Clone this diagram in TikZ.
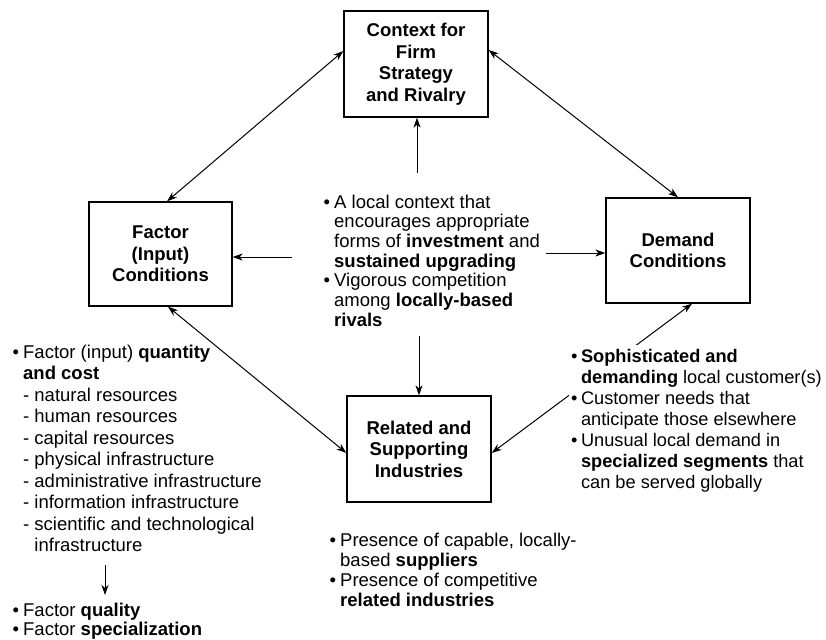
\documentclass[tikz,border=0pt]{standalone}
\usepackage{fontspec}
\setmainfont{Liberation Sans}
\usetikzlibrary{arrows.meta,calc}
\newcommand{\bl}{\textbullet}
\begin{document}
\begin{tikzpicture}[x=1pt,y=-1pt,
  box/.style={draw, line width=1.3pt, minimum width=144pt, minimum height=106pt,
    align=center, inner sep=0pt, font=\bfseries\fontsize{18.5}{21.5}\selectfont},
  tip/.tip={Stealth[length=10pt,width=7pt,inset=3pt]},
  duoarrow/.style={line width=1pt, tip-tip},
  onearrow/.style={line width=1pt, -tip},
  txt/.style={anchor=base west, inner sep=0pt}
]
\useasboundingbox (0,0) rectangle (826,639);
\fill[white] (0,0) rectangle (826,639);

% boxes
\node[box] (ctx) at (416,64) {Context for\\Firm\\Strategy\\and Rivalry};
\node[box, minimum width=143pt, minimum height=104pt] (fac) at (160.5,254) {Factor\\(Input)\\Conditions};
\node[box, minimum height=105pt] (dem) at (678,250.5) {Demand\\Conditions};
\node[box] (rel) at (419,449) {Related and\\Supporting\\Industries};

% connectors between boxes
\draw[duoarrow] ([yshift=13pt]ctx.west) -- ([xshift=6.5pt]fac.north);
\draw[duoarrow] ([yshift=14pt]ctx.east) -- (dem.north);
\draw[duoarrow] ([xshift=7.5pt]fac.south) -- ([yshift=-4pt]rel.west);
\draw[duoarrow] ([xshift=14pt]dem.south) -- ([yshift=-4pt]rel.east);

% connectors from the centre text
\coordinate (c1) at (417,173);
\coordinate (c2) at (419,336);
\coordinate (c3) at (292,257);
\coordinate (c4) at (546,253);
\draw[onearrow] (c1) -- (c1 |- ctx.south);
\draw[onearrow] (c2) -- (c2 |- rel.north);
\draw[onearrow] (c3) -- (c3 -| fac.east);
\draw[onearrow] (c4) -- (c4 -| dem.west);

% centre text
\node[txt, font=\fontsize{18.5}{19.7}\selectfont] (ctr) at (323.5,208) {%
\begin{tabular}[t]{@{}l@{\hspace{4pt}}l@{}}
\bl & A local context that\\
 & encourages appropriate\\
 & forms of \textbf{investment} and\\
 & \textbf{sustained upgrading}\\
\bl & Vigorous competition\\
 & among \textbf{locally-based}\\
 & \textbf{rivals}
\end{tabular}};

% factor text
\node[txt, font=\fontsize{18.5}{21.5}\selectfont] (ftx) at (12.5,358) {%
\begin{tabular}[t]{@{}l@{\hspace{4pt}}l@{}}
\bl & Factor (input) \textbf{quantity}\\
 & \textbf{and cost}\\
 & - natural resources\\
 & - human resources\\
 & - capital resources\\
 & - physical infrastructure\\
 & - administrative infrastructure\\
 & - information infrastructure\\
 & - scientific and technological\\
 & \phantom{-}\ infrastructure
\end{tabular}};
\coordinate (fa1) at (105,565);
\coordinate (fa2) at (105,595);
\draw[onearrow] (fa1) -- (fa2);
\node[txt, font=\fontsize{18.5}{19}\selectfont] (fq) at (12.5,616) {%
\begin{tabular}[t]{@{}l@{\hspace{4pt}}l@{}}
\bl & Factor \textbf{quality}\\
\bl & Factor \textbf{specialization}
\end{tabular}};

% related text
\node[txt, font=\fontsize{18.5}{20}\selectfont] (rtx) at (329.5,546) {%
\begin{tabular}[t]{@{}l@{\hspace{4pt}}l@{}}
\bl & Presence of capable, locally-\\
 & based \textbf{suppliers}\\
\bl & Presence of competitive\\
 & \textbf{related industries}
\end{tabular}};

% demand text (covers the connector behind it)
\node[txt, fill=white, inner sep=2pt, font=\fontsize{18.2}{21}\selectfont] (dtx) at (569,362) {%
\begin{tabular}[t]{@{}l@{\hspace{3.5pt}}l@{}}
\bl & \textbf{Sophisticated and}\\
 & \textbf{demanding} local customer(s)\\
\bl & Customer needs that\\
 & anticipate those elsewhere\\
\bl & Unusual local demand in\\
 & \textbf{specialized segments} that\\
 & can be served globally
\end{tabular}};
\end{tikzpicture}
\end{document}
